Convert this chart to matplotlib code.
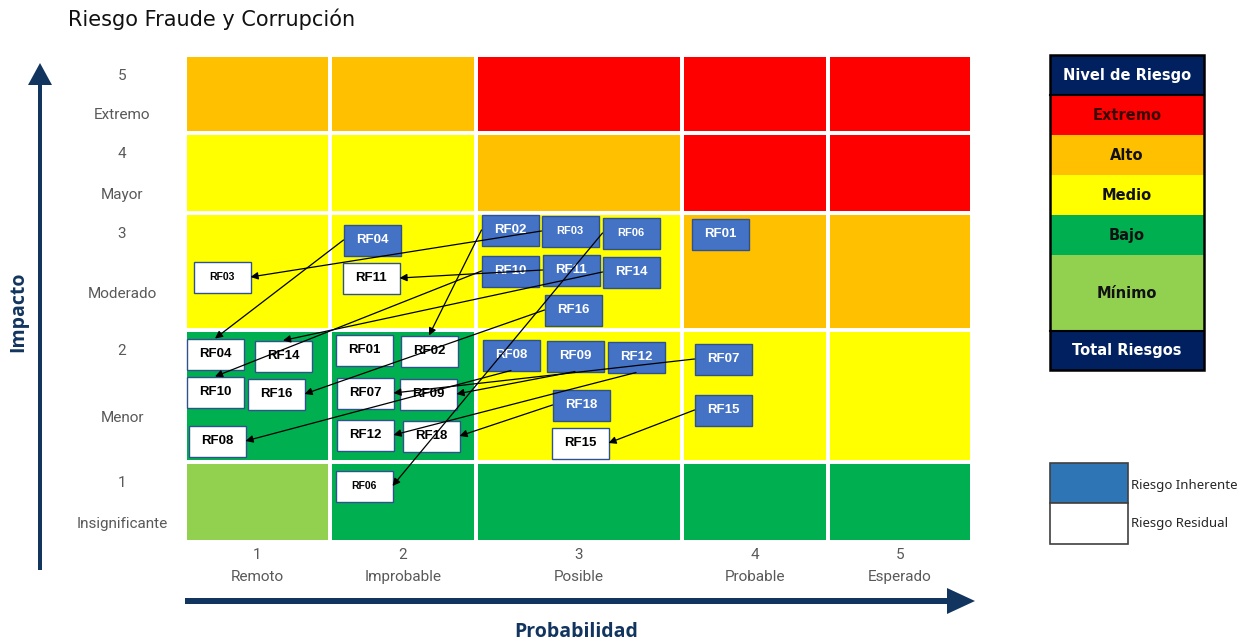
import matplotlib
matplotlib.use("Agg")
import matplotlib.pyplot as plt
from matplotlib.colors import ListedColormap
from matplotlib.patches import Rectangle, FancyArrowPatch, FancyArrow
import numpy as np

# --- data ---
prob_nums = ['1', '2', '3', '4', '5']
prob_names = ['Remoto', 'Improbable', 'Posible', 'Probable', 'Esperado']
impact_nums = ['5', '4', '3', '2', '1']
impact_names = ['Extremo', 'Mayor', 'Moderado', 'Menor', 'Insignificante']

level_names = ['Mínimo', 'Bajo', 'Medio', 'Alto', 'Extremo']
level_colors = ['#92D050', '#00B050', '#FFFF00', '#FFC000', '#FF0000']

# risk level per cell, rows = impact 5..1, cols = probability 1..5
levels = [
    [3, 3, 4, 4, 4],
    [2, 2, 3, 4, 4],
    [2, 2, 2, 3, 3],
    [1, 1, 2, 2, 2],
    [0, 1, 1, 1, 1],
]

risk_ids = ['RF01', 'RF02', 'RF03', 'RF04', 'RF06', 'RF07', 'RF08', 'RF09',
            'RF10', 'RF11', 'RF12', 'RF14', 'RF15', 'RF16', 'RF18']
# box centres on the map (inherent = blue, residual = white)
inh_x = [720, 510, 570, 372, 631, 723, 511, 575, 510, 571, 636, 631, 723, 573, 581]
inh_y = [234, 230, 231, 240, 233, 359, 355, 356, 271, 270, 357, 272, 410, 310, 405]
res_x = [364, 429, 222, 215, 364, 365, 217, 428, 215, 371, 365, 283, 580, 276, 431]
res_y = [350, 351, 277, 354, 486, 393, 441, 394, 392, 278, 435, 356, 443, 394, 436]
# which side of each box the arrow leaves / reaches (None = no arrow)
arrow_from = [None, 'left', 'left', 'left', 'left', 'left', 'bottom', 'bottom',
              'left', 'left', 'bottom', 'left', 'left', 'left', 'left']
arrow_to = [None, 'top', 'right', 'top', 'right', 'right', 'right', 'right',
            'top', 'right', 'right', 'top', 'right', 'right', 'right']
small_inh = ['RF03', 'RF06']
small_res = ['RF03', 'RF06']

# --- layout (pixels) ---
col_edges = [185, 330, 476, 682, 828, 972]
row_edges = [55, 133, 213, 330, 462, 542]
impact_name_y = [115, 195, 294, 418, 524]
box_w, box_h = 57, 31

navy = '#12355F'
grey = '#595959'

fig = plt.figure(figsize=(12.53, 6.44), dpi=100)
ax = fig.add_axes([0, 0, 1, 1])
ax.set_xlim(0, 1253)
ax.set_ylim(644, 0)
ax.axis('off')

# heat map
cmap = ListedColormap(level_colors)
ax.pcolormesh(col_edges, row_edges, np.array(levels), cmap=cmap, vmin=-0.5, vmax=4.5,
              edgecolors='white', linewidth=1.5, zorder=1)

# title
ax.text(68, 19, 'Riesgo Fraude y Corrupción', fontsize=15, family='DejaVu Sans',
        ha='left', va='center', color='#111111')

# impact labels
for i in range(5):
    ax.text(122, row_edges[i] + 21, impact_nums[i], fontsize=11, family='Roboto',
            color=grey, ha='center', va='center')
    ax.text(122, impact_name_y[i], impact_names[i], fontsize=11, family='Roboto',
            color=grey, ha='center', va='center')

# probability labels
for j in range(5):
    cx = (col_edges[j] + col_edges[j + 1]) / 2
    ax.text(cx, 555, prob_nums[j], fontsize=11, family='Roboto', color=grey,
            ha='center', va='center')
    ax.text(cx, 577, prob_names[j], fontsize=11, family='Roboto', color=grey,
            ha='center', va='center')

# axis arrows
ax.add_patch(FancyArrow(40, 570, 0, -507, width=4, head_width=24, head_length=22,
                        length_includes_head=True, color=navy, lw=0))
ax.add_patch(FancyArrow(185, 601, 790, 0, width=6, head_width=26, head_length=28,
                        length_includes_head=True, color=navy, lw=0))
ax.text(18, 312, 'Impacto', fontsize=14, family='Open Sans', fontweight='bold',
        color=navy, rotation=90, ha='center', va='center')
ax.text(576, 632, 'Probabilidad', fontsize=14, family='Open Sans', fontweight='bold',
        color=navy, ha='center', va='center')


def anchor(x, y, side):
    if side == 'left':
        return (x - box_w / 2, y)
    if side == 'right':
        return (x + box_w / 2, y)
    if side == 'top':
        return (x, y - box_h / 2)
    return (x, y + box_h / 2)


# risk boxes
for k, rid in enumerate(risk_ids):
    ax.add_patch(Rectangle((inh_x[k] - box_w / 2, inh_y[k] - box_h / 2), box_w, box_h,
                           facecolor='#4472C4', edgecolor='#2F528F', lw=1, zorder=3))
    ax.text(inh_x[k], inh_y[k], rid, color='white', fontweight='bold',
            family='Liberation Sans', fontsize=8 if rid in small_inh else 9.5,
            ha='center', va='center', zorder=4)
    ax.add_patch(Rectangle((res_x[k] - box_w / 2, res_y[k] - box_h / 2), box_w, box_h,
                           facecolor='white', edgecolor='#2F528F', lw=1, zorder=3))
    ax.text(res_x[k], res_y[k], rid, color='black', fontweight='bold',
            family='Liberation Sans', fontsize=7.5 if rid in small_res else 9.5,
            ha='center', va='center', zorder=4)

for k, rid in enumerate(risk_ids):
    if arrow_from[k] is None:
        continue
    a = anchor(inh_x[k], inh_y[k], arrow_from[k])
    b = anchor(res_x[k], res_y[k], arrow_to[k])
    ax.add_patch(FancyArrowPatch(a, b, arrowstyle='-|>', mutation_scale=11, lw=0.9,
                                 color='black', shrinkA=0, shrinkB=0, zorder=5))

# level legend table
lx, lw_ = 1050, 154
leg_rows = ['Nivel de Riesgo'] + level_names[::-1] + ['Total Riesgos']
leg_fill = ['#002060'] + level_colors[::-1] + ['#002060']
leg_edges = [55, 95, 135, 175, 215, 255, 331, 370]
for r in range(len(leg_rows)):
    top, bot = leg_edges[r], leg_edges[r + 1]
    ax.add_patch(Rectangle((lx, top), lw_, bot - top, facecolor=leg_fill[r],
                           edgecolor='none', zorder=2))
    txt_color = 'white' if leg_fill[r] == '#002060' else '#111111'
    if leg_rows[r] == 'Extremo':
        txt_color = '#3a0000'
    ax.text(lx + lw_ / 2, (top + bot) / 2, leg_rows[r], color=txt_color, fontsize=10.5,
            family='DejaVu Sans', fontweight='bold', ha='center', va='center', zorder=3)
for yy in [95, 331]:
    ax.plot([lx, lx + lw_], [yy, yy], color='black', lw=1.5, zorder=3)
ax.add_patch(Rectangle((lx, 55), lw_, 315, facecolor='none', edgecolor='black',
                       lw=1.8, zorder=4))

# inherent / residual legend
ax.add_patch(Rectangle((1050, 463), 78, 40, facecolor='#2E75B6', edgecolor='#404040',
                       lw=1.2, zorder=2))
ax.add_patch(Rectangle((1050, 503), 78, 41, facecolor='white', edgecolor='#404040',
                       lw=1.2, zorder=2))
ax.text(1131, 485, 'Riesgo Inherente', fontsize=9.5, family='Noto Sans',
        color='#262626', ha='left', va='center')
ax.text(1131, 524, 'Riesgo Residual', fontsize=9.5, family='Noto Sans',
        color='#262626', ha='left', va='center')

fig.savefig('out.png', dpi=100)
